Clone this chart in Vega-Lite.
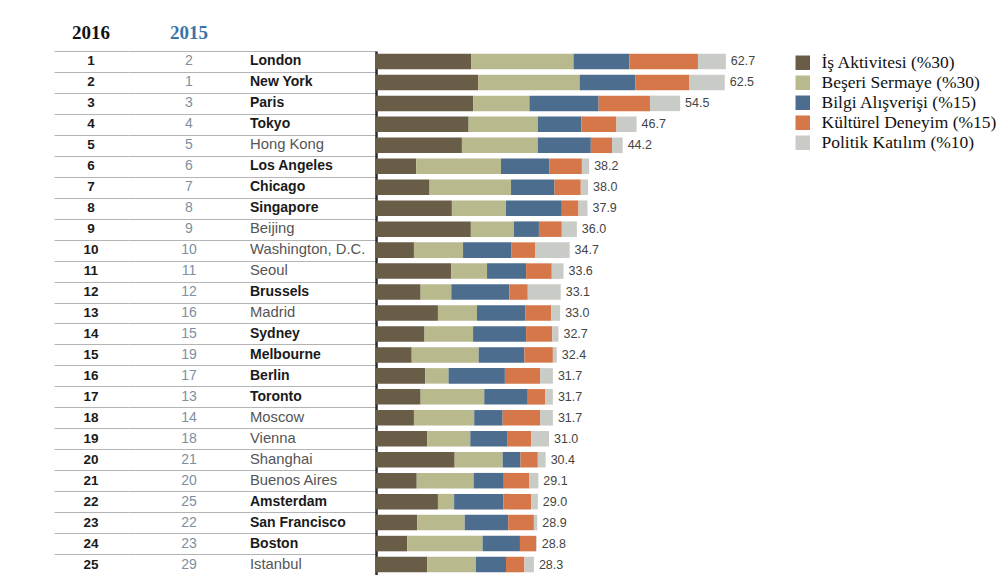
{
  "$schema": "https://vega.github.io/schema/vega-lite/v6.json",
  "background": "white",
  "padding": {"left": 54, "top": 24, "right": 0, "bottom": 0},
  "spacing": 0,
  "config": {
    "view": {"stroke": null},
    "concat": {"spacing": 0},
    "axis": {"minExtent": 0, "maxExtent": 0, "labelPadding": 0, "titlePadding": 0}
  },
  "datasets": {
    "sehirler": [
      {"r16": 1, "r15": 2, "sehir": "London", "kalin": true, "toplam": 62.7, "is": 17.1, "beseri": 18.3, "bilgi": 10.0, "kultur": 12.3, "politik": 5.0},
      {"r16": 2, "r15": 1, "sehir": "New York", "kalin": true, "toplam": 62.5, "is": 18.3, "beseri": 18.2, "bilgi": 10.0, "kultur": 9.6, "politik": 6.4},
      {"r16": 3, "r15": 3, "sehir": "Paris", "kalin": true, "toplam": 54.5, "is": 17.4, "beseri": 10.1, "bilgi": 12.4, "kultur": 9.2, "politik": 5.4},
      {"r16": 4, "r15": 4, "sehir": "Tokyo", "kalin": true, "toplam": 46.7, "is": 16.6, "beseri": 12.4, "bilgi": 7.8, "kultur": 6.3, "politik": 3.6},
      {"r16": 5, "r15": 5, "sehir": "Hong Kong", "kalin": false, "toplam": 44.2, "is": 15.4, "beseri": 13.6, "bilgi": 9.5, "kultur": 3.8, "politik": 1.9},
      {"r16": 6, "r15": 6, "sehir": "Los Angeles", "kalin": true, "toplam": 38.2, "is": 7.2, "beseri": 15.2, "bilgi": 8.7, "kultur": 5.8, "politik": 1.3},
      {"r16": 7, "r15": 7, "sehir": "Chicago", "kalin": true, "toplam": 38.0, "is": 9.6, "beseri": 14.6, "bilgi": 7.8, "kultur": 4.7, "politik": 1.3},
      {"r16": 8, "r15": 8, "sehir": "Singapore", "kalin": true, "toplam": 37.9, "is": 13.6, "beseri": 9.7, "bilgi": 10.0, "kultur": 3.0, "politik": 1.6},
      {"r16": 9, "r15": 9, "sehir": "Beijing", "kalin": false, "toplam": 36.0, "is": 17.0, "beseri": 7.7, "bilgi": 4.5, "kultur": 4.1, "politik": 2.7},
      {"r16": 10, "r15": 10, "sehir": "Washington, D.C.", "kalin": false, "toplam": 34.7, "is": 6.8, "beseri": 8.8, "bilgi": 8.7, "kultur": 4.2, "politik": 6.2},
      {"r16": 11, "r15": 11, "sehir": "Seoul", "kalin": false, "toplam": 33.6, "is": 13.5, "beseri": 6.4, "bilgi": 7.0, "kultur": 4.6, "politik": 2.1},
      {"r16": 12, "r15": 12, "sehir": "Brussels", "kalin": true, "toplam": 33.1, "is": 8.0, "beseri": 5.5, "bilgi": 10.4, "kultur": 3.3, "politik": 5.9},
      {"r16": 13, "r15": 16, "sehir": "Madrid", "kalin": false, "toplam": 33.0, "is": 11.1, "beseri": 7.0, "bilgi": 8.7, "kultur": 4.6, "politik": 1.6},
      {"r16": 14, "r15": 15, "sehir": "Sydney", "kalin": true, "toplam": 32.7, "is": 8.7, "beseri": 8.7, "bilgi": 9.5, "kultur": 4.7, "politik": 1.1},
      {"r16": 15, "r15": 19, "sehir": "Melbourne", "kalin": true, "toplam": 32.4, "is": 6.4, "beseri": 12.0, "bilgi": 8.2, "kultur": 5.1, "politik": 0.7},
      {"r16": 16, "r15": 17, "sehir": "Berlin", "kalin": true, "toplam": 31.7, "is": 8.8, "beseri": 4.2, "bilgi": 10.1, "kultur": 6.3, "politik": 2.3},
      {"r16": 17, "r15": 13, "sehir": "Toronto", "kalin": true, "toplam": 31.7, "is": 8.0, "beseri": 11.4, "bilgi": 7.8, "kultur": 3.1, "politik": 1.4},
      {"r16": 18, "r15": 14, "sehir": "Moscow", "kalin": false, "toplam": 31.7, "is": 6.8, "beseri": 10.8, "bilgi": 5.1, "kultur": 6.7, "politik": 2.3},
      {"r16": 19, "r15": 18, "sehir": "Vienna", "kalin": false, "toplam": 31.0, "is": 9.2, "beseri": 7.7, "bilgi": 6.7, "kultur": 4.2, "politik": 3.2},
      {"r16": 20, "r15": 21, "sehir": "Shanghai", "kalin": false, "toplam": 30.4, "is": 14.1, "beseri": 8.6, "bilgi": 3.2, "kultur": 3.1, "politik": 1.4},
      {"r16": 21, "r15": 20, "sehir": "Buenos Aires", "kalin": false, "toplam": 29.1, "is": 7.3, "beseri": 10.2, "bilgi": 5.4, "kultur": 4.6, "politik": 1.6},
      {"r16": 22, "r15": 25, "sehir": "Amsterdam", "kalin": true, "toplam": 29.0, "is": 11.1, "beseri": 2.9, "bilgi": 8.8, "kultur": 5.0, "politik": 1.2},
      {"r16": 23, "r15": 22, "sehir": "San Francisco", "kalin": true, "toplam": 28.9, "is": 7.4, "beseri": 8.5, "bilgi": 7.8, "kultur": 4.6, "politik": 0.6},
      {"r16": 24, "r15": 23, "sehir": "Boston", "kalin": true, "toplam": 28.8, "is": 5.6, "beseri": 13.5, "bilgi": 6.7, "kultur": 2.9, "politik": 0.1},
      {"r16": 25, "r15": 29, "sehir": "Istanbul", "kalin": false, "toplam": 28.3, "is": 9.2, "beseri": 8.7, "bilgi": 5.4, "kultur": 3.3, "politik": 1.7}
    ],
    "bilesenler": [
      {"anahtar": "is", "etiket": "İş Aktivitesi (%30)", "sira": 1},
      {"anahtar": "beseri", "etiket": "Beşeri Sermaye (%30)", "sira": 2},
      {"anahtar": "bilgi", "etiket": "Bilgi Alışverişi (%15)", "sira": 3},
      {"anahtar": "kultur", "etiket": "Kültürel Deneyim (%15)", "sira": 4},
      {"anahtar": "politik", "etiket": "Politik Katılım (%10)", "sira": 5}
    ]
  },
  "data": {"name": "sehirler"},
  "hconcat": [
    {
      "width": 74,
      "height": 524,
      "title": {"text": "2016", "font": "Liberation Serif", "fontSize": 19, "fontWeight": "bold", "color": "#111111", "anchor": "middle", "offset": 8},
      "mark": {"type": "text", "font": "Liberation Sans", "fontSize": 13.5, "fontWeight": "bold", "color": "#1a1a1a", "baseline": "middle"},
      "encoding": {
        "y": {"field": "r16", "type": "ordinal", "scale": {"paddingInner": 0, "paddingOuter": 0}, "axis": {"labels": false, "ticks": false, "domain": false, "grid": true, "gridColor": "#b4b4b4", "gridWidth": 1, "tickBand": "extent", "title": null}},
        "text": {"field": "r16"}
      }
    },
    {
      "width": 122,
      "height": 524,
      "title": {"text": "2015", "font": "Liberation Serif", "fontSize": 19, "fontWeight": "bold", "color": "#3b74a6", "anchor": "middle", "offset": 8},
      "mark": {"type": "text", "font": "Liberation Sans", "fontSize": 14, "color": "#7d8fa0", "baseline": "middle"},
      "encoding": {
        "y": {"field": "r16", "type": "ordinal", "scale": {"paddingInner": 0, "paddingOuter": 0}, "axis": {"labels": false, "ticks": false, "domain": false, "grid": true, "gridColor": "#b4b4b4", "gridWidth": 1, "tickBand": "extent", "title": null}},
        "text": {"field": "r15"}
      }
    },
    {
      "width": 126,
      "height": 524,
      "encoding": {
        "y": {"field": "r16", "type": "ordinal", "scale": {"paddingInner": 0, "paddingOuter": 0}, "axis": {"labels": false, "ticks": false, "domain": false, "grid": true, "gridColor": "#b4b4b4", "gridWidth": 1, "tickBand": "extent", "title": null}},
        "x": {"datum": 0, "type": "quantitative", "scale": {"domain": [0, 1]}, "axis": null},
        "text": {"field": "sehir"}
      },
      "layer": [
        {
          "transform": [{"filter": "datum.kalin"}],
          "mark": {"type": "text", "font": "Liberation Sans", "fontSize": 14, "fontWeight": "bold", "color": "#1a1a1a", "align": "left", "baseline": "middle", "dx": 0}
        },
        {
          "transform": [{"filter": "!datum.kalin"}],
          "mark": {"type": "text", "font": "Liberation Sans", "fontSize": 14.8, "color": "#555555", "align": "left", "baseline": "middle", "dx": 0}
        }
      ]
    },
    {
      "width": 409,
      "height": 524,
      "layer": [
        {
          "transform": [
            {"fold": ["is", "beseri", "bilgi", "kultur", "politik"], "as": ["anahtar", "deger"]},
            {"lookup": "anahtar", "from": {"data": {"name": "bilesenler"}, "key": "anahtar", "fields": ["etiket", "sira"]}}
          ],
          "mark": {"type": "bar"},
          "encoding": {
            "y": {"field": "r16", "type": "ordinal", "scale": {"paddingInner": 0.26, "paddingOuter": 0.13}, "axis": {"labels": false, "ticks": false, "grid": false, "title": null, "domainColor": "#2a2a2a", "domainWidth": 2.5}},
            "x": {"field": "deger", "type": "quantitative", "stack": "zero", "scale": {"domain": [0, 73.3], "nice": false}, "axis": null},
            "order": {"field": "sira", "sort": "ascending"},
            "color": {
              "field": "etiket",
              "type": "nominal",
              "scale": {
                "domain": ["İş Aktivitesi (%30)", "Beşeri Sermaye (%30)", "Bilgi Alışverişi (%15)", "Kültürel Deneyim (%15)", "Politik Katılım (%10)"],
                "range": ["#6a5d48", "#b9b98e", "#4c6d8e", "#d6774a", "#c9cbc7"]
              },
              "legend": {"title": null, "orient": "right", "offset": 6, "padding": 3, "symbolType": "square", "symbolSize": 210, "symbolStrokeWidth": 0, "labelFont": "Liberation Serif", "labelFontSize": 17.5, "labelColor": "#111111", "labelOffset": 10, "rowPadding": 1, "labelLimit": 300}
            }
          }
        },
        {
          "mark": {"type": "text", "font": "Liberation Sans", "fontSize": 12.5, "color": "#444444", "align": "left", "baseline": "middle", "dx": 5},
          "encoding": {
            "y": {"field": "r16", "type": "ordinal"},
            "x": {"field": "toplam", "type": "quantitative"},
            "text": {"field": "toplam", "type": "quantitative", "format": ".1f"}
          }
        }
      ]
    }
  ]
}
